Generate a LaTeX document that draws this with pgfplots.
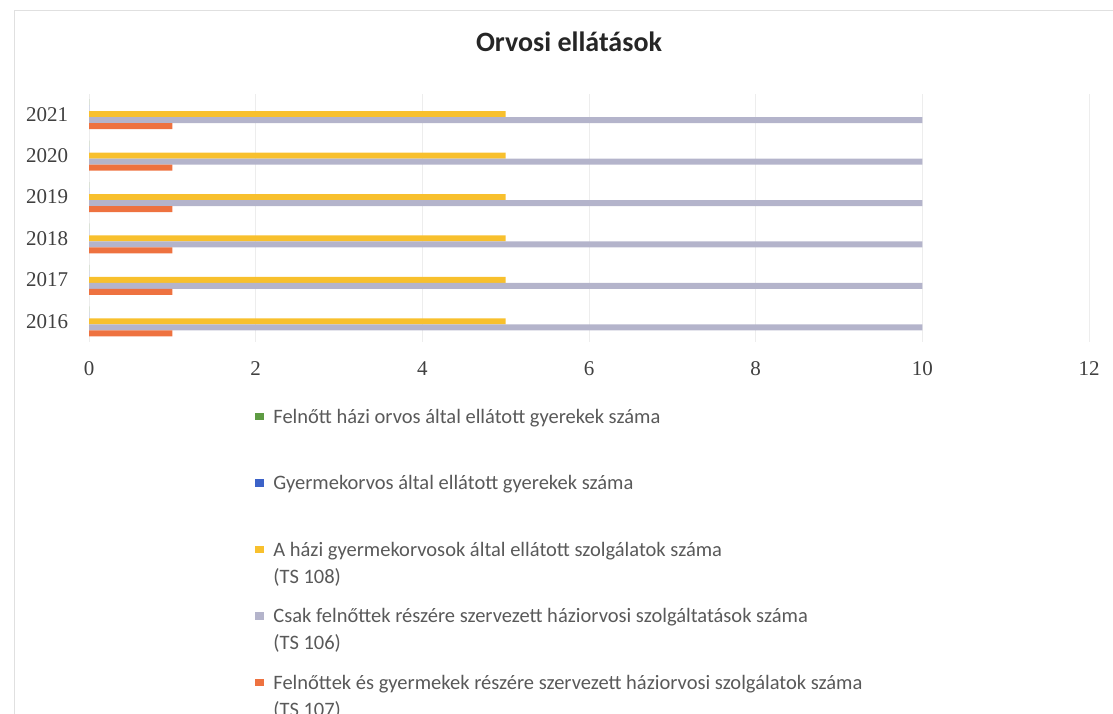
\documentclass[border=0pt]{standalone}
\usepackage{fontspec}
\setmainfont{Carlito}
\newfontfamily\serifnum{Liberation Serif}
\usepackage{pgfplots}
\pgfplotsset{compat=1.18}
\usepackage{pgfplotstable}

\definecolor{cgreen}{HTML}{5E9B43}
\definecolor{cblue}{HTML}{3C62C8}
\definecolor{cyellow}{HTML}{F8C02D}
\definecolor{cgray}{HTML}{B4B4CB}
\definecolor{corange}{HTML}{EE7240}

\pgfplotstableread{
y green blue yellow gray orange
0 0 0 5 10 1
1 0 0 5 10 1
2 0 0 5 10 1
3 0 0 5 10 1
4 0 0 5 10 1
5 0 0 5 10 1
}\datatable

\pgfplotsset{sqleg/.style={legend image code/.code={\fill[##1,draw=none] (0bp,3bp) rectangle (9bp,10.5bp); \path (0bp,0bp);}}}

\begin{document}
\begin{tikzpicture}
\path[use as bounding box] (0,0) rectangle (1113bp,714bp);
\draw[black!12, line width=0.8bp] (14bp,0) -- (14bp,704bp) -- (1113bp,704bp);
\begin{axis}[
 at={(89bp,372bp)}, anchor=south west,
 scale only axis, width=1000bp, height=248.5bp,
 xmin=0, xmax=12, ymin=-0.5, ymax=5.5,
 xbar, bar width=0.145,
 xtick={0,2,4,6,8,10,12}, xticklabels={0,2,4,6,8,10,12},
 ytick={0,1,2,3,4,5}, yticklabels={2016,2017,2018,2019,2020,2021},
 axis line style={draw=none}, major tick length=0pt,
 xmajorgrids, major grid style={color=black!7, line width=0.6bp},
 tick label style={font=\serifnum\fontsize{21bp}{25bp}\selectfont, text=black!75, inner sep=0pt},
 xticklabel style={anchor=north, yshift=-19.7bp},
 yticklabel style={anchor=east, xshift=-20.7bp},
 title={Orvosi ellátások},
 title style={at={(0.48,1)}, anchor=base, yshift=35.8bp, font=\bfseries\fontsize{28bp}{34bp}\selectfont, text=black!85, inner sep=0pt},
 legend style={at={(0,0)}, anchor=north west, xshift=166bp, yshift=-66bp, draw=none, fill=none, inner sep=0pt, row sep=46.5bp, column sep=9bp, font=\fontsize{20.5bp}{25bp}\selectfont, cells={anchor=base west}, nodes={inner sep=0pt, text height=15bp, text depth=5bp, text=black!65}},
 legend columns=1,
]
\addplot[fill=cgreen, draw=none, bar shift=0.29, forget plot] table[x=green, y=y] {\datatable};
\addplot[fill=cblue, draw=none, bar shift=0.145, forget plot] table[x=blue, y=y] {\datatable};
\addplot[fill=cyellow, draw=none, bar shift=0, forget plot] table[x=yellow, y=y] {\datatable};
\addplot[fill=cgray, draw=none, bar shift=-0.145, forget plot] table[x=gray, y=y] {\datatable};
\addplot[fill=corange, draw=none, bar shift=-0.29, forget plot] table[x=orange, y=y] {\datatable};
\addlegendimage{sqleg, fill=cgreen}
\addlegendentry{Felnőtt házi orvos által ellátott gyerekek száma}
\addlegendimage{sqleg, fill=cblue}
\addlegendentry{Gyermekorvos által ellátott gyerekek száma}
\addlegendimage{sqleg, fill=cyellow}
\addlegendentry{\rlap{\raisebox{-27bp}[0pt][0pt]{(TS 108)}}A házi gyermekorvosok által ellátott szolgálatok száma}
\addlegendimage{sqleg, fill=cgray}
\addlegendentry{\rlap{\raisebox{-27bp}[0pt][0pt]{(TS 106)}}Csak felnőttek részére szervezett háziorvosi szolgáltatások száma}
\addlegendimage{sqleg, fill=corange}
\addlegendentry{\rlap{\raisebox{-27bp}[0pt][0pt]{(TS 107)}}Felnőttek és gyermekek részére szervezett háziorvosi szolgálatok száma}
\end{axis}
\end{tikzpicture}
\end{document}
